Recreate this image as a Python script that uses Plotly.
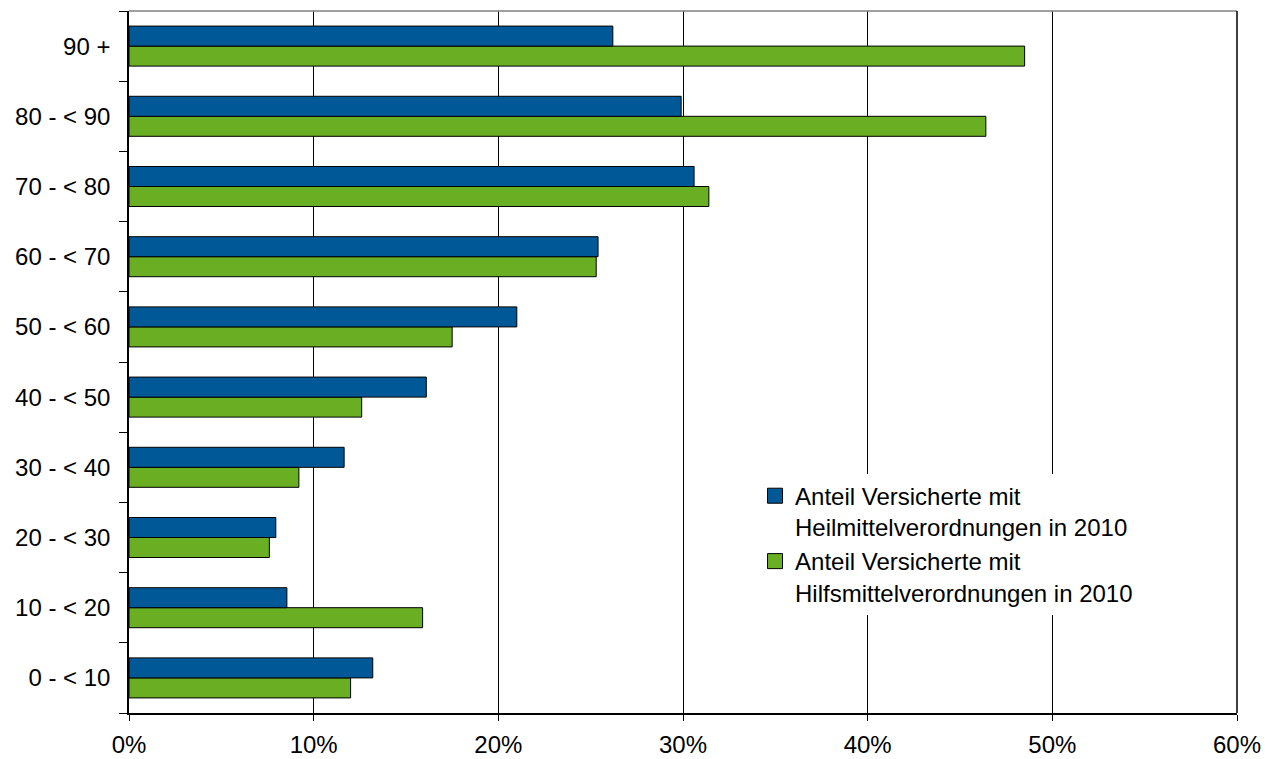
import plotly.graph_objects as go

categories = ["0 - < 10", "10 - < 20", "20 - < 30", "30 - < 40", "40 - < 50",
              "50 - < 60", "60 - < 70", "70 - < 80", "80 - < 90", "90 +"]
heilmittel = [13.2, 8.55, 7.95, 11.65, 16.1, 21.0, 25.4, 30.6, 29.9, 26.2]
hilfsmittel = [12.0, 15.9, 7.6, 9.2, 12.6, 17.5, 25.3, 31.4, 46.4, 48.5]
name_heil = "Anteil Versicherte mit<br>Heilmittelverordnungen in 2010"
name_hilf = "Anteil Versicherte mit<br>Hilfsmittelverordnungen in 2010"
x_ticks = [0, 10, 20, 30, 40, 50, 60]
x_ticklabels = ["0%", "10%", "20%", "30%", "40%", "50%", "60%"]

BLUE = "#015896"
GREEN = "#6AAF23"
FONT = "Liberation Sans, Arial, sans-serif"

fig = go.Figure()
fig.add_trace(go.Bar(y=categories, x=hilfsmittel, orientation="h", name=name_hilf,
                     showlegend=False,
                     marker=dict(color=GREEN, line=dict(color="black", width=1))))
fig.add_trace(go.Bar(y=categories, x=heilmittel, orientation="h", name=name_heil,
                     showlegend=False,
                     marker=dict(color=BLUE, line=dict(color="black", width=1))))
# legend entries with larger square symbols
for nm, col in [(name_hilf, GREEN), (name_heil, BLUE)]:
    fig.add_trace(go.Scatter(x=[None], y=[None], mode="markers", name=nm,
                             marker=dict(symbol="square", size=15, color=col,
                                         line=dict(color="black", width=1))))

fig.update_layout(
    width=1265, height=759,
    margin=dict(l=129, r=28, t=11, b=46, autoexpand=False),
    paper_bgcolor="white", plot_bgcolor="white",
    barmode="group", bargap=0.43, bargroupgap=0,
    font=dict(family=FONT, size=24, color="black"),
    showlegend=True,
    legend=dict(x=0.565, y=0.341, xanchor="left", yanchor="top",
                traceorder="reversed", bgcolor="white", valign="top",
                font=dict(family=FONT, size=24, color="black"),
                tracegroupgap=0, itemsizing="trace"),
    xaxis=dict(range=[0, 60], tickmode="array", tickvals=x_ticks, ticktext=x_ticklabels,
               showgrid=True, gridcolor="black", gridwidth=1,
               showline=True, linecolor="black", linewidth=1.5,
               ticks="outside", ticklen=6, tickcolor="black",
               zeroline=False, tickfont=dict(size=24), automargin=False,
               ticklabelstandoff=3),
    yaxis=dict(type="category", categoryorder="array", categoryarray=categories,
               showgrid=False, showline=True, linecolor="black", linewidth=1.5,
               ticks="outside", ticklen=8, tickcolor="black", tickson="boundaries",
               tickfont=dict(size=24), automargin=False, ticklabelstandoff=12),
    shapes=[dict(type="line", xref="paper", yref="paper", x0=0, x1=1, y0=1, y1=1,
                 line=dict(color="#808080", width=1.5)),
            dict(type="line", xref="paper", yref="paper", x0=1, x1=1, y0=0, y1=1,
                 line=dict(color="black", width=1.5))],
)

fig.write_html("out.html", config={"displayModeBar": False},
               post_script="document.body.style.margin='0';")
